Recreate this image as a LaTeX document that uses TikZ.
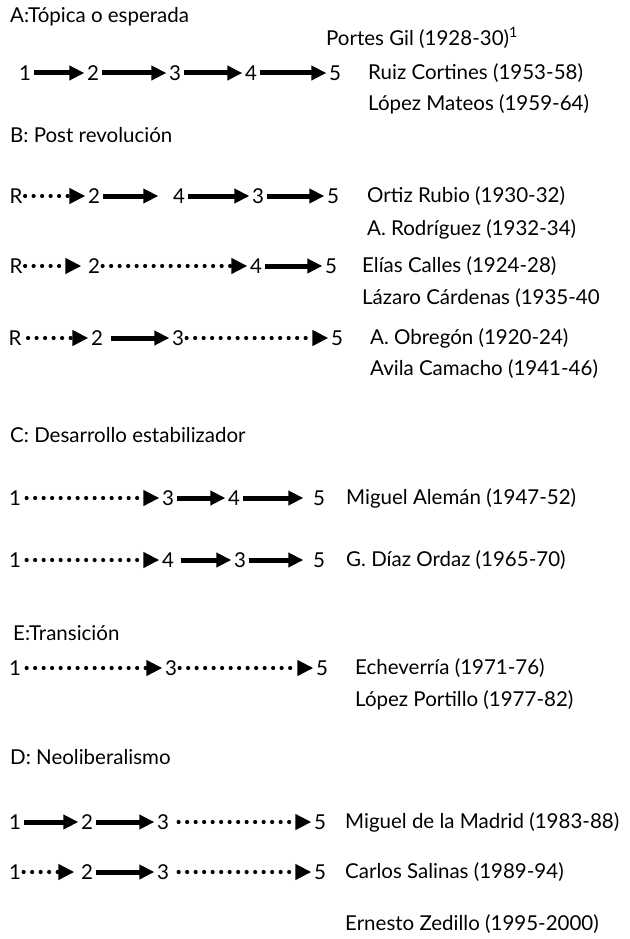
\documentclass[tikz,border=0pt]{standalone}
\usepackage{fontspec}
\setmainfont{Lato}
\usetikzlibrary{arrows.meta, positioning}

\begin{document}
\begin{tikzpicture}[x=1pt, y=-1pt, node distance=31pt, on grid,
    every node/.style={font=\fontsize{20.5}{24}\selectfont, inner sep=2.5pt},
    pres/.style={anchor=west, inner sep=0pt},
    head/.style={anchor=west, inner sep=0pt},
    firm/.style={line width=5pt, -{Triangle[length=15pt,width=14pt]}},
    loose/.style={line width=4.2pt, line cap=round, dash pattern=on 0pt off 8.5pt,
                  -{Triangle[length=16pt,width=15pt]}}]
\useasboundingbox (0,0) rectangle (629,939);

% A: topica
\node [head] (tA) at (10,17) {A:Tópica o esperada};
\node (a1) at (25,73) {1};
\node (a2) at (93,73) {2};
\node (a3) at (175,73) {3};
\node (a4) at (251,73) {4};
\node (a5) at (335,73) {5};
\draw [firm] (a1) -- (a2);
\draw [firm] (a2) -- (a3);
\draw [firm] (a3) -- (a4);
\draw [firm] (a4) -- (a5);
\node [pres] (portes) at (326,38) {Portes Gil (1928-30)\textsuperscript{1}};
\node [pres] (ruiz) at (368,73) {Ruiz Cortines (1953-58)};
\node [pres, below=of ruiz.west, anchor=west] (lopezm) {López Mateos (1959-64)};

% B: post revolucion
\node [head] (tB) at (10,135) {B: Post revolución};
\node (b1r) at (16,196) {R};
\node (b12) at (94,196) {2};
\node (b14) at (179,196) {4};
\node (b13) at (258,196) {3};
\node (b15) at (333,196) {5};
\draw [loose] (b1r) -- (b12);
\draw [firm, shorten >=12pt] (b12) -- (b14);
\draw [firm] (b14) -- (b13);
\draw [firm] (b13) -- (b15);
\node [pres] (ortiz) at (367,196) {Ortiz Rubio (1930-32)};
\node [pres, below=33pt of ortiz.west, anchor=west] (rodriguez) {A. Rodríguez (1932-34)};

\node (b2r) at (16,266) {R};
\node (b22) at (94,266) {2};
\node (b24) at (256,266) {4};
\node (b25) at (331,266) {5};
\draw [loose, shorten >=4pt] (b2r) -- (b22);
\draw [loose] (b22) -- (b24);
\draw [firm] (b24) -- (b25);
\node [pres] (calles) at (362,266) {Elías Calles (1924-28)};
\node [pres, below=32pt of calles.west, anchor=west] (cardenas) {Lázaro Cárdenas (1935-40};

\node (b3r) at (15,338) {R};
\node (b32) at (97,338) {2};
\node (b33) at (178,338) {3};
\node (b35) at (337,338) {5};
\draw [loose, shorten <=4pt] (b3r) -- (b32);
\draw [firm, shorten <=5pt] (b32) -- (b33);
\draw [loose] (b33) -- (b35);
\node [pres] (obregon) at (370,338) {A. Obregón (1920-24)};
\node [pres, below=of obregon.west, anchor=west] (avila) {Avila Camacho (1941-46)};

% C: desarrollo estabilizador
\node [head] (tC) at (10,435) {C: Desarrollo estabilizador};
\node (c11) at (15,498) {1};
\node (c13) at (168,498) {3};
\node (c14) at (234,498) {4};
\node (c15) at (319,498) {5};
\draw [loose, shorten <=3pt] (c11) -- (c13);
\draw [firm] (c13) -- (c14);
\draw [firm, shorten >=7pt] (c14) -- (c15);
\node [pres] (aleman) at (346,498) {Miguel Alemán (1947-52)};

\node (c21) at (15,560) {1};
\node (c24) at (168,560) {4};
\node (c23) at (240,560) {3};
\node (c25) at (319,560) {5};
\draw [loose, shorten <=3pt] (c21) -- (c24);
\draw [firm, shorten <=4pt] (c24) -- (c23);
\draw [firm, shorten >=7pt] (c23) -- (c25);
\node [pres] (ordaz) at (346,560) {G. Díaz Ordaz (1965-70)};

% E: transicion
\node [head] (tE) at (13,633) {E:Transición};
\node (e1) at (15,668) {1};
\node (e3) at (171,668) {3};
\node (e5) at (322,668) {5};
\draw [loose, shorten <=3pt] (e1) -- (e3);
\draw [loose] (e3) -- (e5);
\node [pres] (echeverria) at (355,668) {Echeverría (1971-76)};
\node [pres, below=32pt of echeverria.west, anchor=west] (portillo) {López Portillo (1977-82)};

% D: neoliberalismo
\node [head] (tD) at (10,757) {D: Neoliberalismo};
\node (d11) at (15,822) {1};
\node (d12) at (87,822) {2};
\node (d13) at (163,822) {3};
\node (d15) at (320,822) {5};
\draw [firm] (d11) -- (d12);
\draw [firm] (d12) -- (d13);
\draw [loose, shorten <=7pt] (d13) -- (d15);
\node [pres] (madrid) at (345,822) {Miguel de la Madrid (1983-88)};

\node (d21) at (15,872) {1};
\node (d22) at (87,872) {2};
\node (d23) at (163,872) {3};
\node (d25) at (320,872) {5};
\draw [loose, shorten >=4pt] (d21) -- (d22);
\draw [firm] (d22) -- (d23);
\draw [loose, shorten <=7pt] (d23) -- (d25);
\node [pres] (salinas) at (345,872) {Carlos Salinas (1989-94)};
\node [pres] (zedillo) at (345,924) {Ernesto Zedillo (1995-2000)};
\end{tikzpicture}
\end{document}
